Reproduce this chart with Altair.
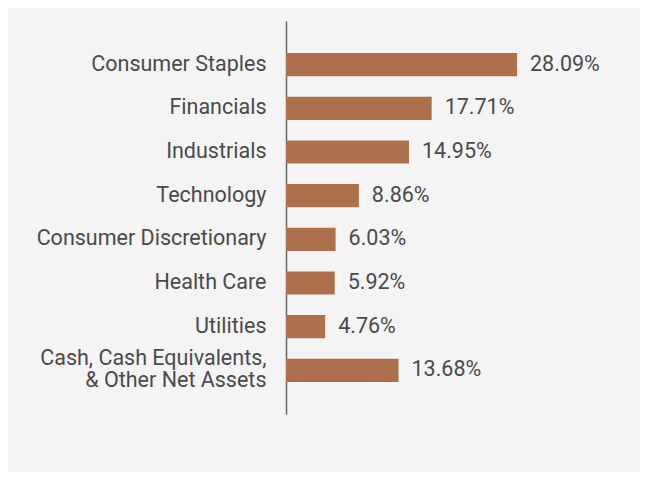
import altair as alt
import pandas as pd

categories = [
    "Consumer Staples",
    "Financials",
    "Industrials",
    "Technology",
    "Consumer Discretionary",
    "Health Care",
    "Utilities",
    "Cash, Cash Equivalents,|& Other Net Assets",
]
values = [28.09, 17.71, 14.95, 8.86, 6.03, 5.92, 4.76, 13.68]
labels = ["28.09%", "17.71%", "14.95%", "8.86%", "6.03%", "5.92%", "4.76%", "13.68%"]

df = pd.DataFrame({"cat": categories, "val": values, "lab": labels})

y = alt.Y(
    "cat:N",
    sort=None,
    scale=alt.Scale(paddingInner=0.47, paddingOuter=0.735),
    axis=alt.Axis(
        title=None,
        ticks=False,
        domain=True,
        domainColor="#666666",
        domainWidth=1.5,
        labelFont="Roboto",
        labelFontSize=21.5,
        labelColor="#4a4a4a",
        labelPadding=20,
        labelLimit=400,
        labelLineHeight=22,
        labelOffset=alt.ExprRef("indexof(datum.label, '|') >= 0 ? -11 : 0"),
        labelExpr="split(datum.label, '|')",
        grid=False,
    ),
)
x = alt.X(
    "val:Q",
    scale=alt.Scale(domain=[0, 40], nice=False),
    axis=None,
)

base = alt.Chart(df).encode(y=y, x=x)
bars = base.mark_bar(color="#ae704c")
text = base.mark_text(
    align="left", baseline="middle", dx=13, font="Roboto", fontSize=21.5, color="#4a4a4a"
).encode(text="lab:N")

chart = (
    (bars + text)
    .properties(
        width=329,
        height=393,
        background="#f4f4f4",
        padding={"left": 278, "top": 13, "right": 25, "bottom": 58},
        autosize=alt.AutoSizeParams(type="none"),
    )
    .configure_view(stroke=None)
)

chart.save("out.html", embed_options={"renderer": "svg", "actions": False})
